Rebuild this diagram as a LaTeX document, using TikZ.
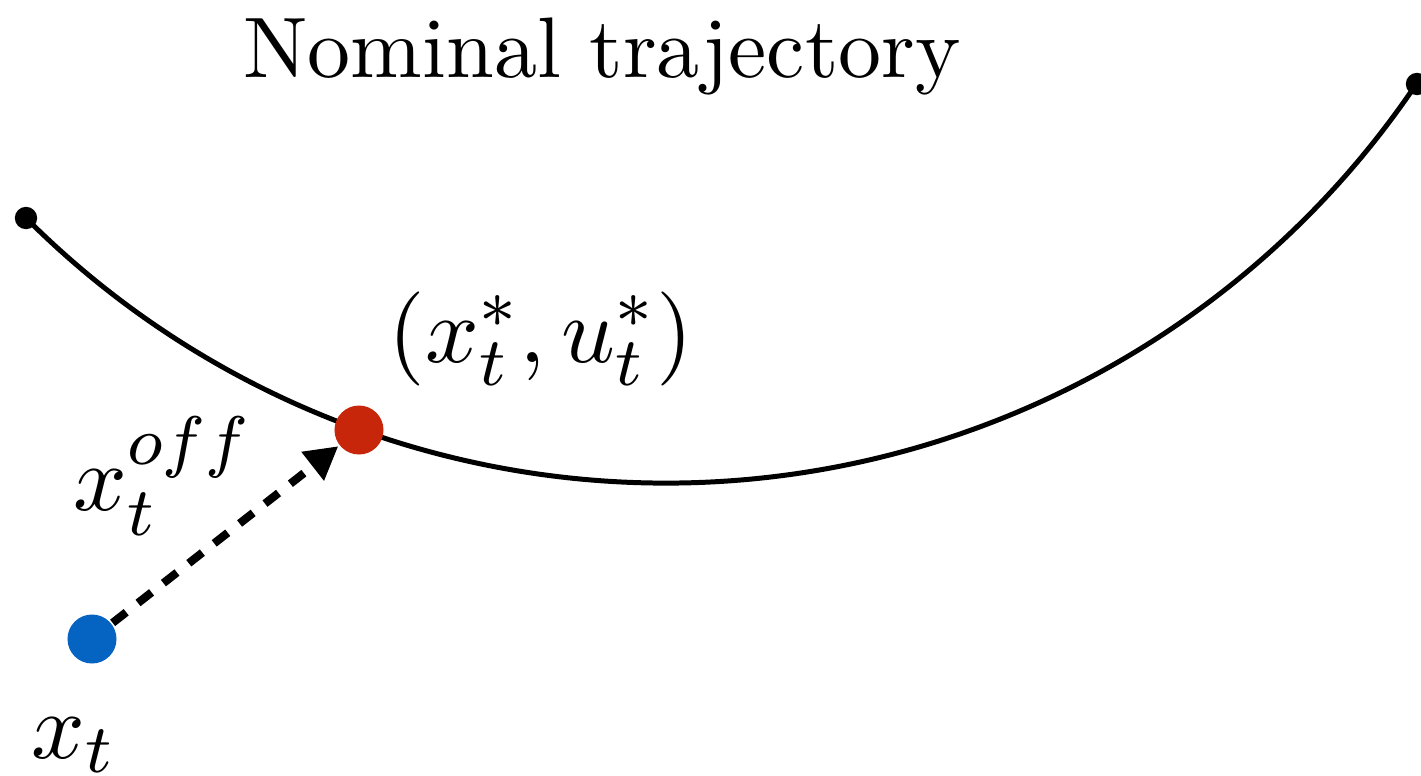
\documentclass[tikz,border=0pt]{standalone}
\usepackage{amsmath,amssymb}
\usepackage{xcolor}
\usepackage{tikz}
\usetikzlibrary{arrows.meta,positioning}
\definecolor{Red}{HTML}{C8260A}
\definecolor{Blue}{HTML}{0563C1}
\tikzset{
  enddot/.style={circle,fill=black,inner sep=0pt,minimum size=2.6pt},
  reddot/.style={circle,fill=Red,inner sep=0pt,minimum size=5.7pt},
  bluedot/.style={circle,fill=Blue,inner sep=0pt,minimum size=5.7pt},
  traj/.style={line width=0.58pt,draw=black},
  offflow/.style={-{Triangle[length=3.8pt,width=4pt]},line width=0.95pt,
                  dash pattern=on 2pt off 1.75pt},
  lbl/.style={inner sep=0pt},
  mathlbl/.style={inner sep=0pt,font=\fontsize{11}{13}\selectfont}
}

\begin{document}
\begin{tikzpicture}[x=0.1163pt,y=-0.1163pt]
  \useasboundingbox (0,0) rectangle (1421,775);
  \node[enddot] (start) at (26,218) {};
  \node[enddot] (end) at (1417,84) {};
  \draw[traj] (start.center) arc[start angle=135,end angle=34,radius=905];
  \node[bluedot] (xt) at (92,639) {};
  \node[reddot] (xstar) at (359,430) {};
  \draw[offflow] (xt) -- (xstar);
  \node[lbl,anchor=base] (title) at (602,77) {Nominal trajectory};
  \node[mathlbl,anchor=base west] (pair) at (387,362) {$(x_t^*,u_t^*)$};
  \node[mathlbl,anchor=base west] (offlbl) at (72,510) {$x_t^{off}$};
  \node[mathlbl,anchor=base west] (xlbl) at (30,758) {$x_t$};
\end{tikzpicture}
\end{document}
